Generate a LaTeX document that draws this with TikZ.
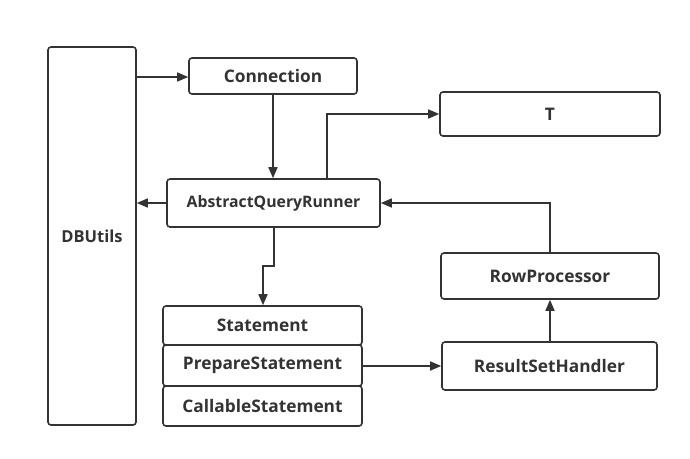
\documentclass[tikz,border=0pt]{standalone}
\usepackage{fontspec}
\setmainfont{Open Sans}
\usetikzlibrary{arrows.meta}
\definecolor{ink}{HTML}{333333}
\tikzset{
  x=1pt,y=-1pt,
  box/.style={draw=ink,line width=1.6pt,rounded corners=3pt,fill=white,inner sep=0pt,
    font=\bfseries\fontsize{17.3}{20}\selectfont,text=ink},
  conn/.style={draw=ink,line width=1.6pt,-{Triangle[length=11pt,width=9pt]}},
}
\newcommand{\mybox}[6]{\node[box,minimum width=#4-#2,minimum height=#5-#3] (#1) at ({(#2+#4)/2},{(#3+#5)/2}) {#6};}
\begin{document}
\begin{tikzpicture}
\useasboundingbox (0,0) rectangle (690,458);
\mybox{db}{48}{47}{136}{425}{\fontsize{16.5}{19}\selectfont DBUtils}
\mybox{con}{189}{58}{357}{94}{Connection}
\mybox{aqr}{167}{179}{380}{227}{\fontsize{15.8}{18}\selectfont AbstractQueryRunner}
\mybox{t}{440}{92}{660}{136}{T}
\mybox{rp}{441}{253}{659}{299}{RowProcessor}
\mybox{rs}{442}{342}{657}{390}{ResultSetHandler}
\mybox{st}{163}{306}{362}{345}{Statement}
\mybox{ps}{163}{345}{362}{386}{PrepareStatement}
\mybox{cs}{163}{386}{362}{426}{CallableStatement}
\draw[conn] (db.east |- 0,77) -- (con.west |- 0,77);
\draw[conn] (con.south -| 273,0) -- (aqr.north -| 273,0);
\draw[conn] (aqr.west |- 0,203) -- (db.east |- 0,203);
\draw[conn] (aqr.north -| 327,0) |- (t.west |- 0,114);
\draw[conn] (rp.north -| 550,0) |- (aqr.east |- 0,203);
\draw[conn] (aqr.south -| 274,0) -- (274,266) -- (263,266) -- (st.north -| 263,0);
\draw[conn] (ps.east |- 0,366) -- (rs.west |- 0,366);
\draw[conn] (rs.north -| 550,0) -- (rp.south -| 550,0);
\end{tikzpicture}
\end{document}
